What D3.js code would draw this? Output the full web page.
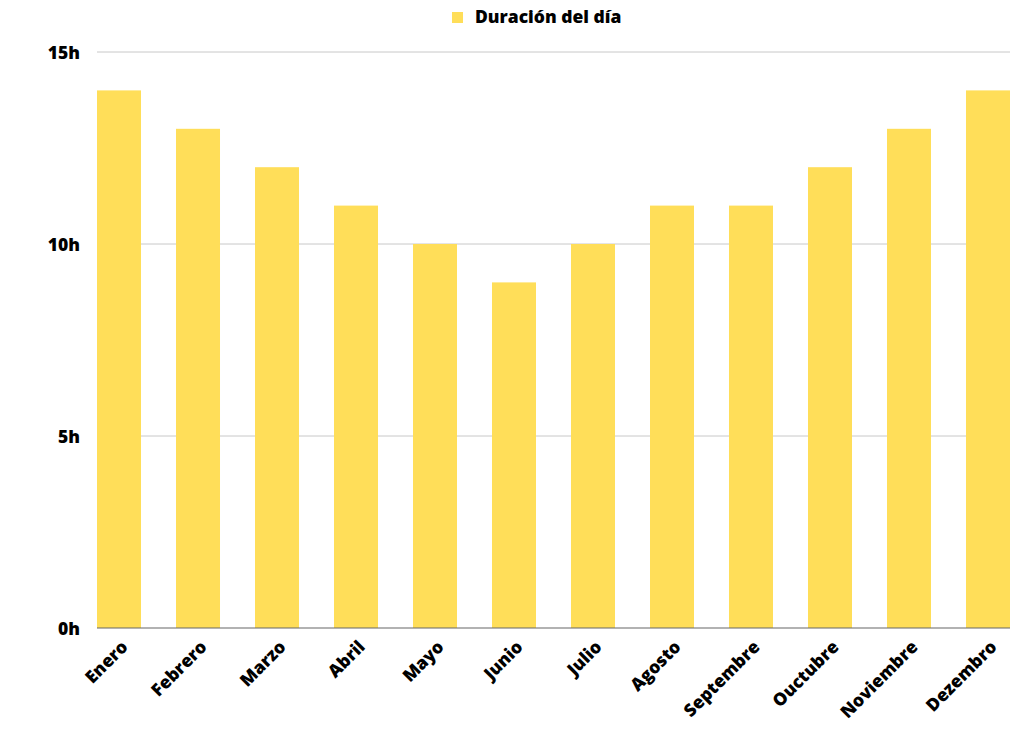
<!DOCTYPE html>
<html><head><meta charset="utf-8">
<script src="https://cdn.jsdelivr.net/npm/d3@7"></script>
<style>body{margin:0;background:#fff}text{font-family:"Open Sans",sans-serif;font-weight:800;fill:#000}</style>
</head><body>
<svg id="c" width="1024" height="730"></svg>
<script>
const months = ["Enero","Febrero","Marzo","Abril","Mayo","Junio","Julio","Agosto","Septembre","Ouctubre","Noviembre","Dezembro"];
const hours = [14,13,12,11,10,9,10,11,11,12,13,14];
const yTicks = [0,5,10,15];
const seriesName = "Duración del día";
const color = "#FFDE59";

const svg = d3.select("#c");
const x = d3.scaleBand().domain(months).range([97,1010]).paddingInner(0.443).paddingOuter(0);
const y = d3.scaleLinear().domain([0,15]).range([628,52]);

// grid
svg.append("g").selectAll("line").data(yTicks.filter(d=>d>0)).join("line")
  .attr("x1",97).attr("x2",1010).attr("y1",d=>y(d)).attr("y2",d=>y(d))
  .attr("stroke","#c8c8c8").attr("stroke-width",1);

// bars
svg.append("g").selectAll("rect").data(months).join("rect")
  .attr("x",d=>x(d)).attr("width",x.bandwidth())
  .attr("y",(d,i)=>y(hours[i])).attr("height",(d,i)=>y(0)-y(hours[i]))
  .attr("fill",color);

// axis line
svg.append("line").attr("x1",97).attr("x2",1010).attr("y1",y(0)).attr("y2",y(0))
  .attr("stroke","#666").attr("stroke-width",1.2);

// y labels
const yAxis = d3.axisLeft(y).tickValues(yTicks).tickFormat(d=>d+"h").tickSize(0).tickPadding(0);
const gy = svg.append("g").attr("transform","translate(80,0)").call(yAxis);
gy.select(".domain").remove();
gy.selectAll("text").style("font-size","17.5px").style("font-family","'Open Sans',sans-serif").style("font-weight","800").attr("fill","#000").attr("dy","0.35em");

// x labels
const xAxis = d3.axisBottom(x).tickSize(0).tickPadding(0);
const gx = svg.append("g").attr("transform","translate(0,628)").call(xAxis);
gx.select(".domain").remove();
gx.selectAll("text").style("font-size","17.5px").style("font-family","'Open Sans',sans-serif").style("font-weight","800").attr("fill","#000")
  .attr("text-anchor","end").attr("dy",null).attr("y",0)
  .attr("transform","translate(10,20) rotate(-45)");

// legend
svg.append("rect").attr("x",452).attr("y",12).attr("width",11).attr("height",11).attr("fill",color);
svg.append("text").attr("x",475).attr("y",23).style("font-size","17.5px").text(seriesName);
</script>
</body></html>
